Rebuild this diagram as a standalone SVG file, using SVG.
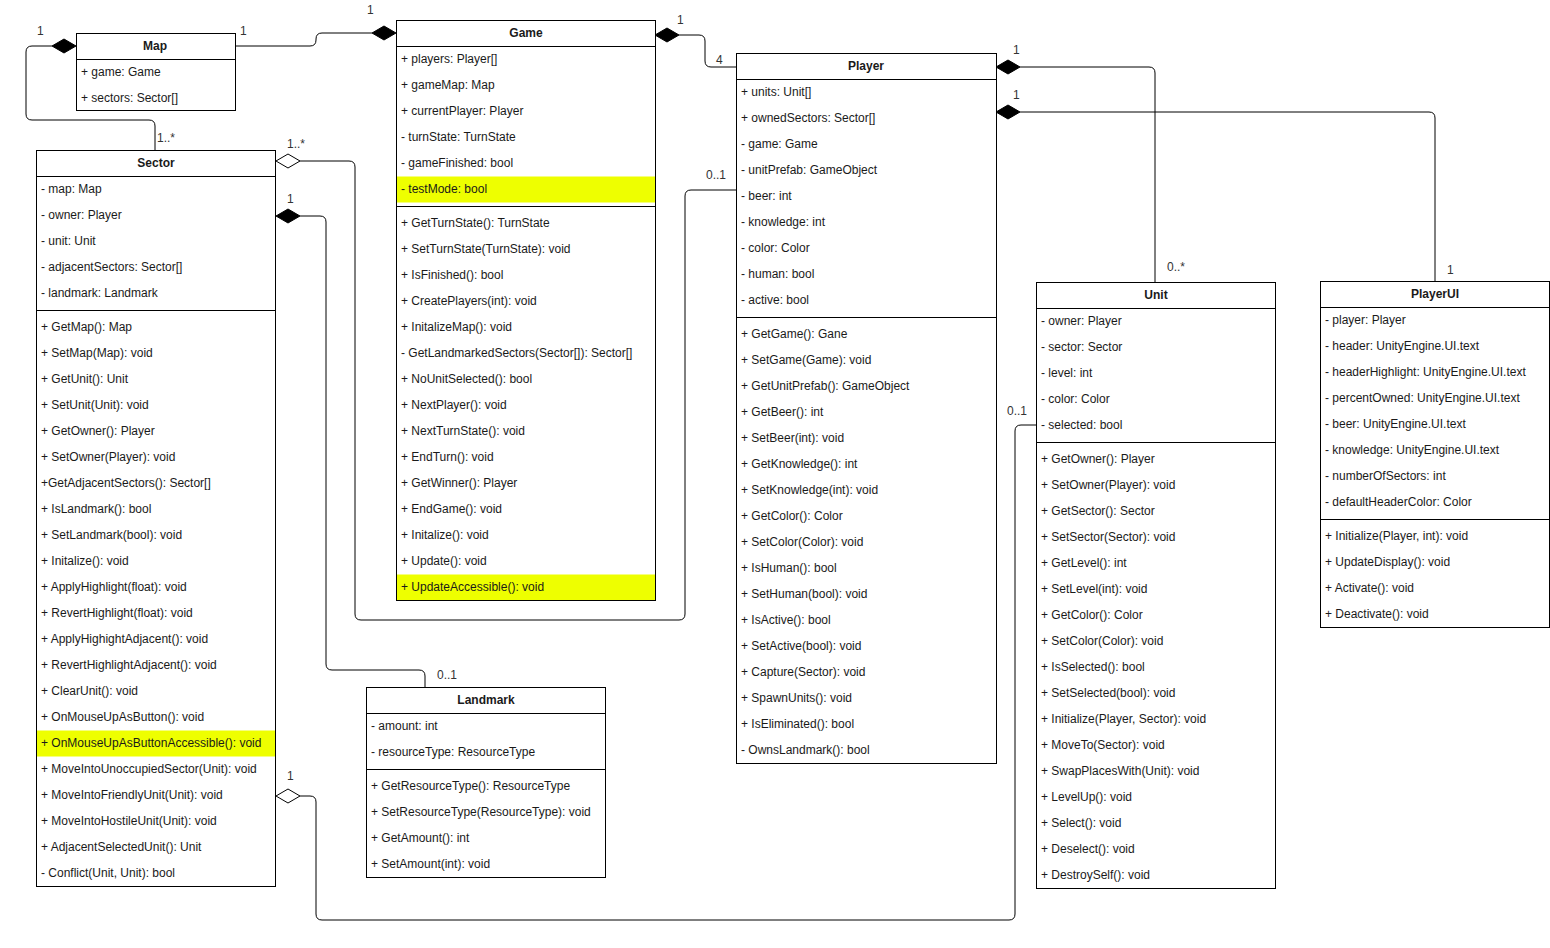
<svg xmlns="http://www.w3.org/2000/svg" width="1550" height="948" viewBox="0 0 1550 948">
<style>
.bg{fill:#fff;stroke:none}
.bx{fill:none;stroke:#000;stroke-width:1}
.ln{stroke:#000;stroke-width:1}
.hl{fill:#EEFF00}
text{font-family:"Liberation Sans",Arial,Helvetica,sans-serif;font-size:12px;fill:#1a1a1a}
.h{font-weight:bold;text-anchor:middle}
.lbl{font-size:12px;fill:#333}
.edge{fill:none;stroke:#000;stroke-width:1}
.fd{fill:#000;stroke:#000}
.od{fill:#fff;stroke:#000}
</style>
<rect width="1550" height="948" fill="#fff"/>

<g id="connectors">
  <!-- Map - Game -->
  <path class="edge" d="M235,46 H310 Q316,46 316,40 L316,39 Q316,33 322,33 H372"/>
  <path class="fd" d="M396,33 L384,26 L372,33 L384,40 Z"/>
  <text class="lbl" x="240" y="35">1</text>
  <text class="lbl" x="367" y="14">1</text>
  <!-- Map - Sector -->
  <path class="edge" d="M52,46 H32 Q26,46 26,52 V114 Q26,120 32,120 H149 Q155,120 155,126 V150"/>
  <path class="fd" d="M76,46 L64,39 L52,46 L64,53 Z"/>
  <text class="lbl" x="37" y="35">1</text>
  <text class="lbl" x="157" y="142">1..*</text>
  <!-- Game - Player -->
  <path class="edge" d="M679,35 H699 Q705,35 705,41 V61 Q705,67 711,67 H736"/>
  <path class="fd" d="M655,35 L667,28 L679,35 L667,42 Z"/>
  <text class="lbl" x="677" y="24">1</text>
  <text class="lbl" x="716" y="64">4</text>
  <!-- Player - Unit -->
  <path class="edge" d="M1020,67 H1149 Q1155,67 1155,73 V282"/>
  <path class="fd" d="M996,67 L1008,60 L1020,67 L1008,74 Z"/>
  <text class="lbl" x="1013" y="54">1</text>
  <text class="lbl" x="1167" y="271">0..*</text>
  <!-- Player - PlayerUI -->
  <path class="edge" d="M1020,112 H1429 Q1435,112 1435,118 V281"/>
  <path class="fd" d="M996,112 L1008,105 L1020,112 L1008,119 Z"/>
  <text class="lbl" x="1013" y="99">1</text>
  <text class="lbl" x="1447" y="274">1</text>
  <!-- Sector - Player -->
  <path class="edge" d="M300,161 H349 Q355,161 355,167 V614 Q355,620 361,620 H679 Q685,620 685,614 V196 Q685,190 691,190 H736"/>
  <path class="od" d="M276,161 L288,154 L300,161 L288,168 Z"/>
  <text class="lbl" x="287" y="148">1..*</text>
  <text class="lbl" x="706" y="179">0..1</text>
  <!-- Sector - Landmark -->
  <path class="edge" d="M300,216 H320 Q326,216 326,222 V664 Q326,670 332,670 H419 Q425,670 425,676 V687"/>
  <path class="fd" d="M276,216 L288,209 L300,216 L288,223 Z"/>
  <text class="lbl" x="287" y="203">1</text>
  <text class="lbl" x="437" y="679">0..1</text>
  <!-- Sector - Unit -->
  <path class="edge" d="M300,796 H310 Q316,796 316,802 V914 Q316,920 322,920 H1009 Q1015,920 1015,914 V431 Q1015,425 1021,425 H1036"/>
  <path class="od" d="M276,796 L288,789 L300,796 L288,803 Z"/>
  <text class="lbl" x="287" y="780">1</text>
  <text class="lbl" x="1007" y="415">0..1</text>
</g>

<g id="map">
  <rect class="bg" x="76.5" y="33.5" width="159" height="77"/>
  <rect class="bx" x="76.5" y="33.5" width="159" height="77"/>
  <line class="ln" x1="76.5" y1="59.5" x2="235.5" y2="59.5"/>
  <text class="h" x="155" y="50">Map</text>
  <text x="81" y="76">+ game: Game</text>
  <text x="81" y="102">+ sectors: Sector[]</text>
</g>

<g id="game">
  <rect class="bg" x="396.5" y="20.5" width="259" height="580"/>
  <rect class="hl" x="397" y="176.5" width="258" height="26"/>
  <rect class="hl" x="397" y="574.5" width="258" height="26"/>
  <rect class="bx" x="396.5" y="20.5" width="259" height="580"/>
  <line class="ln" x1="396.5" y1="46.5" x2="655.5" y2="46.5"/>
  <line class="ln" x1="396.5" y1="206.5" x2="655.5" y2="206.5"/>
  <text class="h" x="526" y="37">Game</text>
  <text x="401" y="63">+ players: Player[]</text>
  <text x="401" y="89">+ gameMap: Map</text>
  <text x="401" y="115">+ currentPlayer: Player</text>
  <text x="401" y="141">- turnState: TurnState</text>
  <text x="401" y="167">- gameFinished: bool</text>
  <text x="401" y="193">- testMode: bool</text>
  <text x="401" y="227">+ GetTurnState(): TurnState</text>
  <text x="401" y="253">+ SetTurnState(TurnState): void</text>
  <text x="401" y="279">+ IsFinished(): bool</text>
  <text x="401" y="305">+ CreatePlayers(int): void</text>
  <text x="401" y="331">+ InitalizeMap(): void</text>
  <text x="401" y="357">- GetLandmarkedSectors(Sector[]): Sector[]</text>
  <text x="401" y="383">+ NoUnitSelected(): bool</text>
  <text x="401" y="409">+ NextPlayer(): void</text>
  <text x="401" y="435">+ NextTurnState(): void</text>
  <text x="401" y="461">+ EndTurn(): void</text>
  <text x="401" y="487">+ GetWinner(): Player</text>
  <text x="401" y="513">+ EndGame(): void</text>
  <text x="401" y="539">+ Initalize(): void</text>
  <text x="401" y="565">+ Update(): void</text>
  <text x="401" y="591">+ UpdateAccessible(): void</text>
</g>

<g id="sector">
  <rect class="bg" x="36.5" y="150.5" width="239" height="736"/>
  <rect class="hl" x="37" y="730.5" width="238" height="26"/>
  <rect class="bx" x="36.5" y="150.5" width="239" height="736"/>
  <line class="ln" x1="36.5" y1="176.5" x2="275.5" y2="176.5"/>
  <line class="ln" x1="36.5" y1="310.5" x2="275.5" y2="310.5"/>
  <text class="h" x="156" y="167">Sector</text>
  <text x="41" y="193">- map: Map</text>
  <text x="41" y="219">- owner: Player</text>
  <text x="41" y="245">- unit: Unit</text>
  <text x="41" y="271">- adjacentSectors: Sector[]</text>
  <text x="41" y="297">- landmark: Landmark</text>
  <text x="41" y="331">+ GetMap(): Map</text>
  <text x="41" y="357">+ SetMap(Map): void</text>
  <text x="41" y="383">+ GetUnit(): Unit</text>
  <text x="41" y="409">+ SetUnit(Unit): void</text>
  <text x="41" y="435">+ GetOwner(): Player</text>
  <text x="41" y="461">+ SetOwner(Player): void</text>
  <text x="41" y="487">+GetAdjacentSectors(): Sector[]</text>
  <text x="41" y="513">+ IsLandmark(): bool</text>
  <text x="41" y="539">+ SetLandmark(bool): void</text>
  <text x="41" y="565">+ Initalize(): void</text>
  <text x="41" y="591">+ ApplyHighlight(float): void</text>
  <text x="41" y="617">+ RevertHighlight(float): void</text>
  <text x="41" y="643">+ ApplyHighightAdjacent(): void</text>
  <text x="41" y="669">+ RevertHighlightAdjacent(): void</text>
  <text x="41" y="695">+ ClearUnit(): void</text>
  <text x="41" y="721">+ OnMouseUpAsButton(): void</text>
  <text x="41" y="747">+ OnMouseUpAsButtonAccessible(): void</text>
  <text x="41" y="773">+ MoveIntoUnoccupiedSector(Unit): void</text>
  <text x="41" y="799">+ MoveIntoFriendlyUnit(Unit): void</text>
  <text x="41" y="825">+ MoveIntoHostileUnit(Unit): void</text>
  <text x="41" y="851">+ AdjacentSelectedUnit(): Unit</text>
  <text x="41" y="877">- Conflict(Unit, Unit): bool</text>
</g>

<g id="player">
  <rect class="bg" x="736.5" y="53.5" width="260" height="710"/>
  <rect class="bx" x="736.5" y="53.5" width="260" height="710"/>
  <line class="ln" x1="736.5" y1="79.5" x2="996.5" y2="79.5"/>
  <line class="ln" x1="736.5" y1="317.5" x2="996.5" y2="317.5"/>
  <text class="h" x="866" y="70">Player</text>
  <text x="741" y="96">+ units: Unit[]</text>
  <text x="741" y="122">+ ownedSectors: Sector[]</text>
  <text x="741" y="148">- game: Game</text>
  <text x="741" y="174">- unitPrefab: GameObject</text>
  <text x="741" y="200">- beer: int</text>
  <text x="741" y="226">- knowledge: int</text>
  <text x="741" y="252">- color: Color</text>
  <text x="741" y="278">- human: bool</text>
  <text x="741" y="304">- active: bool</text>
  <text x="741" y="338">+ GetGame(): Gane</text>
  <text x="741" y="364">+ SetGame(Game): void</text>
  <text x="741" y="390">+ GetUnitPrefab(): GameObject</text>
  <text x="741" y="416">+ GetBeer(): int</text>
  <text x="741" y="442">+ SetBeer(int): void</text>
  <text x="741" y="468">+ GetKnowledge(): int</text>
  <text x="741" y="494">+ SetKnowledge(int): void</text>
  <text x="741" y="520">+ GetColor(): Color</text>
  <text x="741" y="546">+ SetColor(Color): void</text>
  <text x="741" y="572">+ IsHuman(): bool</text>
  <text x="741" y="598">+ SetHuman(bool): void</text>
  <text x="741" y="624">+ IsActive(): bool</text>
  <text x="741" y="650">+ SetActive(bool): void</text>
  <text x="741" y="676">+ Capture(Sector): void</text>
  <text x="741" y="702">+ SpawnUnits(): void</text>
  <text x="741" y="728">+ IsEliminated(): bool</text>
  <text x="741" y="754">- OwnsLandmark(): bool</text>
</g>

<g id="unit">
  <rect class="bg" x="1036.5" y="282.5" width="239" height="606"/>
  <rect class="bx" x="1036.5" y="282.5" width="239" height="606"/>
  <line class="ln" x1="1036.5" y1="308.5" x2="1275.5" y2="308.5"/>
  <line class="ln" x1="1036.5" y1="442.5" x2="1275.5" y2="442.5"/>
  <text class="h" x="1156" y="299">Unit</text>
  <text x="1041" y="325">- owner: Player</text>
  <text x="1041" y="351">- sector: Sector</text>
  <text x="1041" y="377">- level: int</text>
  <text x="1041" y="403">- color: Color</text>
  <text x="1041" y="429">- selected: bool</text>
  <text x="1041" y="463">+ GetOwner(): Player</text>
  <text x="1041" y="489">+ SetOwner(Player): void</text>
  <text x="1041" y="515">+ GetSector(): Sector</text>
  <text x="1041" y="541">+ SetSector(Sector): void</text>
  <text x="1041" y="567">+ GetLevel(): int</text>
  <text x="1041" y="593">+ SetLevel(int): void</text>
  <text x="1041" y="619">+ GetColor(): Color</text>
  <text x="1041" y="645">+ SetColor(Color): void</text>
  <text x="1041" y="671">+ IsSelected(): bool</text>
  <text x="1041" y="697">+ SetSelected(bool): void</text>
  <text x="1041" y="723">+ Initialize(Player, Sector): void</text>
  <text x="1041" y="749">+ MoveTo(Sector): void</text>
  <text x="1041" y="775">+ SwapPlacesWith(Unit): void</text>
  <text x="1041" y="801">+ LevelUp(): void</text>
  <text x="1041" y="827">+ Select(): void</text>
  <text x="1041" y="853">+ Deselect(): void</text>
  <text x="1041" y="879">+ DestroySelf(): void</text>
</g>

<g id="playerui">
  <rect class="bg" x="1320.5" y="281.5" width="229" height="346"/>
  <rect class="bx" x="1320.5" y="281.5" width="229" height="346"/>
  <line class="ln" x1="1320.5" y1="307.5" x2="1549.5" y2="307.5"/>
  <line class="ln" x1="1320.5" y1="519.5" x2="1549.5" y2="519.5"/>
  <text class="h" x="1435" y="298">PlayerUI</text>
  <text x="1325" y="324">- player: Player</text>
  <text x="1325" y="350">- header: UnityEngine.UI.text</text>
  <text x="1325" y="376">- headerHighlight: UnityEngine.UI.text</text>
  <text x="1325" y="402">- percentOwned: UnityEngine.UI.text</text>
  <text x="1325" y="428">- beer: UnityEngine.UI.text</text>
  <text x="1325" y="454">- knowledge: UnityEngine.UI.text</text>
  <text x="1325" y="480">- numberOfSectors: int</text>
  <text x="1325" y="506">- defaultHeaderColor: Color</text>
  <text x="1325" y="540">+ Initialize(Player, int): void</text>
  <text x="1325" y="566">+ UpdateDisplay(): void</text>
  <text x="1325" y="592">+ Activate(): void</text>
  <text x="1325" y="618">+ Deactivate(): void</text>
</g>

<g id="landmark">
  <rect class="bg" x="366.5" y="687.5" width="239" height="190"/>
  <rect class="bx" x="366.5" y="687.5" width="239" height="190"/>
  <line class="ln" x1="366.5" y1="713.5" x2="605.5" y2="713.5"/>
  <line class="ln" x1="366.5" y1="769.5" x2="605.5" y2="769.5"/>
  <text class="h" x="486" y="704">Landmark</text>
  <text x="371" y="730">- amount: int</text>
  <text x="371" y="756">- resourceType: ResourceType</text>
  <text x="371" y="790">+ GetResourceType(): ResourceType</text>
  <text x="371" y="816">+ SetResourceType(ResourceType): void</text>
  <text x="371" y="842">+ GetAmount(): int</text>
  <text x="371" y="868">+ SetAmount(int): void</text>
</g>
</svg>
